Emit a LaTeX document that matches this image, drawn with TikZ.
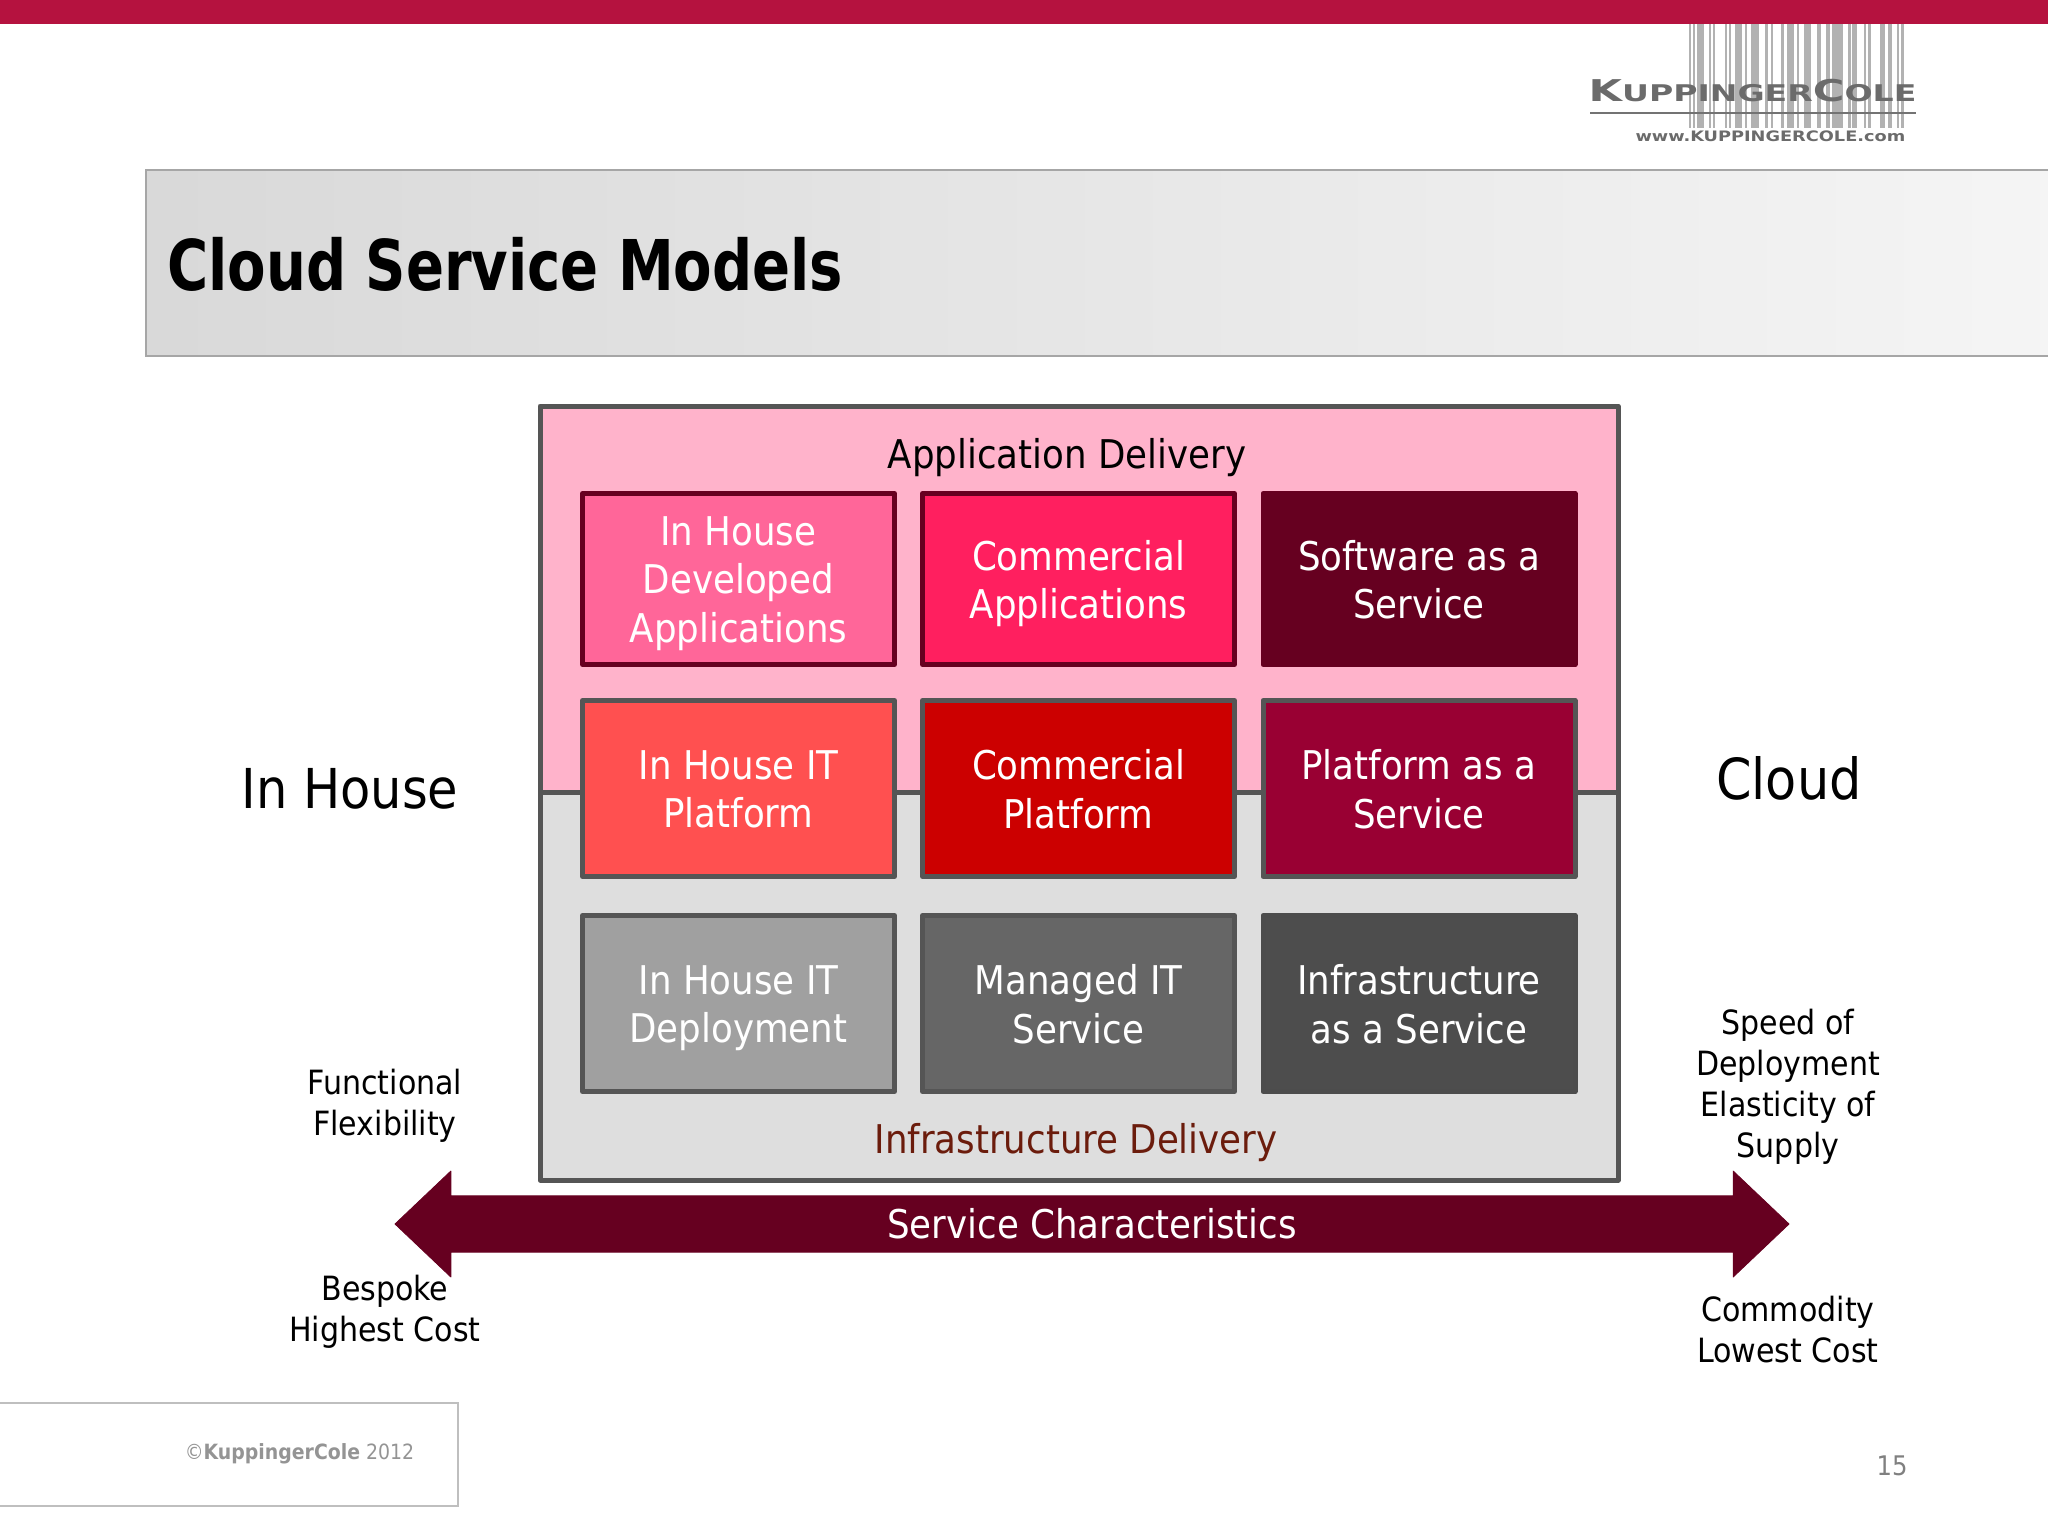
\documentclass[tikz,border=0pt]{standalone}
\usepackage{fontspec}
\setmainfont{DejaVu Sans Condensed}
\usetikzlibrary{shapes.arrows}
\definecolor{barred}{HTML}{B5123F}
\definecolor{wine}{HTML}{660020}
\definecolor{slate}{HTML}{555555}
\definecolor{appink}{HTML}{FFB3CB}
\definecolor{infgray}{HTML}{DEDEDE}
\definecolor{brownish}{HTML}{6B1C0C}
\tikzset{
  cell/.style={draw,line width=2.5pt,line join=round,minimum width=156pt,inner sep=0pt},
  celltext/.style={align=center,inner sep=0pt,text=white,font=\fontsize{19.8}{24.2}\selectfont},
  heading/.style={align=center,font=\fontsize{19.8}{24.2}\selectfont},
  side/.style={align=center,font=\fontsize{16.7}{20.5}\selectfont},
}

\begin{document}
\begin{tikzpicture}[x=0.5pt,y=-0.5pt]
    \useasboundingbox (0,0) rectangle (2048,1536);
    % draw the top bar and the title band
    \fill[barred] (0,0) rectangle (2048,24);
    \draw[line width=1pt,gray!70,left color=black!15,middle color=black!6,right color=black!4] (146,170) rectangle (2060,356);
    \node[anchor=base west,inner sep=0pt,xscale=0.89,font=\fontsize{35}{40}\selectfont\bfseries] (title) at (167,290) {Cloud Service Models};
    % draw the logo
    \foreach \a/\b in {540/546,552/558,562/584,597/603,608/615,643/650,655/660,672/693,700/706,717/740,758/765,775/782,803/812,822/840,848/856,868/890,906/917,933/944,950/966,968/982,996/1003,1008/1022,1040/1048,1052/1062,1087/1101,1110/1120,1135/1142,1147/1154}
    \fill[black!30] ({1500+\a/2.86},24) rectangle ({1500+\b/2.86},128);
    \draw[line width=1pt,black!55] (1590,113) -- (1916,113);
    \node[anchor=base west,inner sep=0pt,text=black!58,xscale=1.6,font=\fontsize{11.5}{12}\selectfont\bfseries] (logo) at (1588,102) {{\fontsize{15}{15}\selectfont K}UPPINGER{\fontsize{15}{15}\selectfont C}OLE};
    \node[anchor=base west,inner sep=0pt,text=black!58,xscale=1.37,font=\fontsize{7.2}{8}\selectfont\bfseries] (www) at (1635,141) {www.KUPPINGERCOLE.com};
    % draw the two delivery areas
    \fill[appink] (540,406) rectangle (1618,792);
    \fill[infgray] (540,792) rectangle (1618,1180);
    \draw[slate,line width=2.5pt] (540,792) -- (1618,792);
    \draw[slate,line width=2.5pt,line join=round] (540,406) rectangle (1618,1180);
    \node[heading] (appdel) at (1067,458) {Application Delivery};
    \node[heading,text=brownish] (infdel) at (1076,1143) {Infrastructure Delivery};
    % draw the cells
    \foreach \cname/\cx/\cy/\ch/\cfill/\cborder/\ctext in {
      a/738.5/579/85.5/FF6699/wine/{In House\\Developed\\Applications},
      b/1078.5/579/85.5/FF1F5F/wine/{Commercial\\Applications},
      c/1419/579/85.5/660020/wine/{Software as a\\Service},
      d/738.5/788.5/88/FF5050/slate/{In House IT\\Platform},
      e/1078.5/788.5/88/CC0000/slate/{Commercial\\Platform},
      f/1419/788.5/88/990033/slate/{Platform as a\\Service},
      g/738.5/1003.5/88/A0A0A0/slate/{In House IT\\Deployment},
      h/1078.5/1003.5/88/666666/slate/{Managed IT\\Service},
      i/1419/1003.5/88/4D4D4D/{black!70}/{Infrastructure\\as a Service}}
    {
      \definecolor{cellfill}{HTML}{\cfill}
      \node[cell,fill=cellfill,draw=\cborder,minimum height=\ch pt] (\cname) at (\cx,\cy) {};
      % text sits on its own baseline, whatever the letters
      \node[celltext] (\cname text) at ([yshift=-2.25pt]\cname.center) {\ctext\vphantom{y}};
    }
    % draw the arrow
    \node[double arrow,fill=wine,draw=wine,line join=round,inner sep=0pt,text=white,
      minimum height=697pt,minimum width=53pt,double arrow head extend=6.9pt,
      double arrow head indent=0pt,double arrow tip angle=87,
      font=\fontsize{19.8}{24.2}\selectfont] (service) at (1092,1224) {Service Characteristics};
    % draw the side labels
    \node[font=\fontsize{27.5}{34}\selectfont] (inhouse) at (350,789) {In House};
    \node[font=\fontsize{28.3}{34}\selectfont] (cloud) at (1789,778) {Cloud};
    \node[side] (flex) at (385,1106) {Functional\\Flexibility};
    \node[side] (bespoke) at (385,1312) {Bespoke\\Highest Cost};
    \node[side] (speed) at (1788,1087) {Speed of\\Deployment\\Elasticity of\\Supply};
    \node[side] (commodity) at (1788,1330) {Commodity\\Lowest Cost};
    % draw the footer
    \draw[black!25,line width=1pt] (-5,1403) rectangle (458,1506);
    \node[text=black!42,font=\fontsize{10.5}{12}\selectfont] (copy) at (299.5,1454) {©\textbf{KuppingerCole} 2012};
    \node[text=black!50,font=\fontsize{13.5}{16}\selectfont] (page) at (1892,1466) {15};
\end{tikzpicture}
\end{document}
